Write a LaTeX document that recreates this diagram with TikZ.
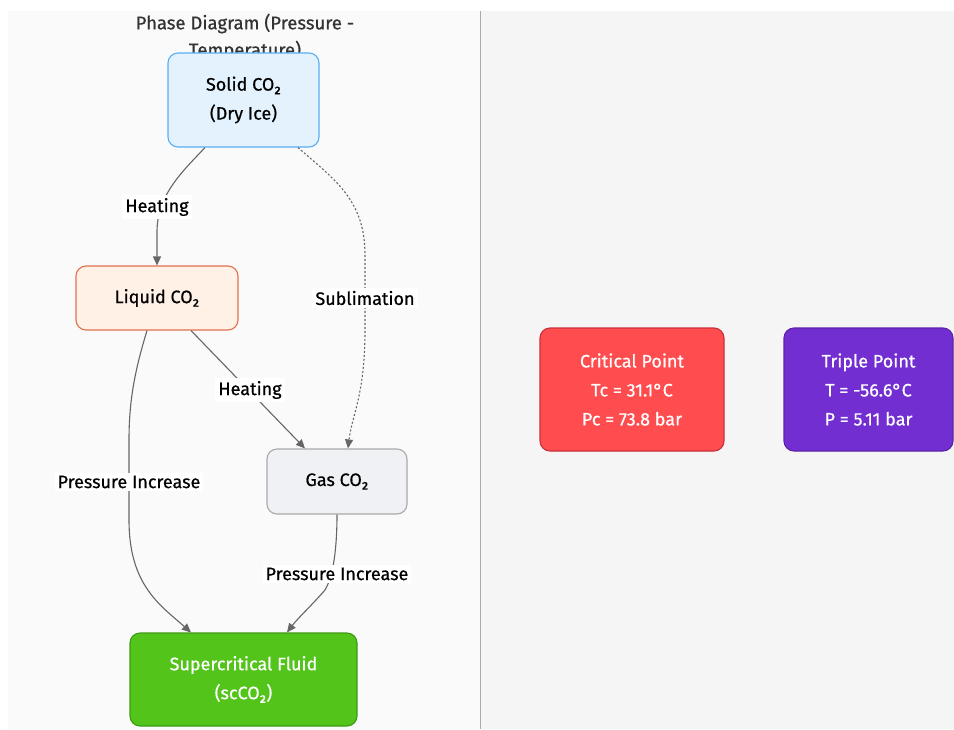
\documentclass[tikz,border=0pt]{standalone}
\usepackage{fontspec}
\setmainfont{Fira Sans}[FakeBold=0.6]
\usetikzlibrary{arrows.meta}
\definecolor{leftbg}{HTML}{FAFAFA}
\definecolor{rightbg}{HTML}{F5F5F5}
\definecolor{divider}{HTML}{AAAAAA}
\definecolor{edgec}{HTML}{666666}
\definecolor{titlec}{HTML}{333333}
\definecolor{solidf}{HTML}{E3F2FD}
\definecolor{solidd}{HTML}{5AAEF2}
\definecolor{liqf}{HTML}{FFF1E6}
\definecolor{liqd}{HTML}{E0714F}
\definecolor{gasf}{HTML}{F0F1F5}
\definecolor{gasd}{HTML}{A9A9A9}
\definecolor{supf}{HTML}{52C41A}
\definecolor{supd}{HTML}{3F9A14}
\definecolor{critf}{HTML}{FF4D4F}
\definecolor{critd}{HTML}{C9303A}
\definecolor{tripf}{HTML}{722ED1}
\definecolor{tripd}{HTML}{5B23A8}
\tikzset{
  box/.style={draw, rounded corners=10pt, line width=1.1pt, align=center, inner sep=0pt,
    font=\fontsize{18}{29}\selectfont},
  edge/.style={draw=edgec, line width=1.1pt, -{Triangle[length=9pt,width=8pt]}},
  dotedge/.style={edge, dash pattern=on 2pt off 2pt},
  lbl/.style={fill=white, inner sep=3pt, font=\fontsize{18}{20}\selectfont, text=black},
}
\begin{document}
\begin{tikzpicture}[x=1pt,y=-1pt]
\useasboundingbox (0,0) rectangle (954,729);
\fill[white] (0,0) rectangle (954,729);
\fill[leftbg] (8,11) rectangle (480,729);
\fill[rightbg] (481,11) rectangle (954,729);
\draw[divider, line width=1.6pt] (480.5,11) -- (480.5,729);

% title
\node[text=titlec, font=\fontsize{18.5}{27}\selectfont, align=center] (title) at (245,37)
  {Phase Diagram (Pressure -\\Temperature)};

% nodes
\node[box, fill=solidf, draw=solidd, minimum width=151pt, minimum height=94pt] (S) at (243.5,100) {Solid CO₂\\(Dry Ice)};
\node[box, fill=liqf, draw=liqd, minimum width=162pt, minimum height=64pt] (L) at (157,298) {Liquid CO₂};
\node[box, fill=gasf, draw=gasd, minimum width=140pt, minimum height=65pt] (G) at (337,481.5) {Gas CO₂};
\node[box, fill=supf, draw=supd, text=white, minimum width=227pt, minimum height=93pt] (F) at (243.5,679.5) {Supercritical Fluid\\(scCO₂)};
\node[box, fill=critf, draw=critd, text=white, minimum width=184pt, minimum height=123pt] (C) at (632,389.5) {Critical Point\\Tc = 31.1°C\\Pc = 73.8 bar};
\node[box, fill=tripf, draw=tripd, text=white, minimum width=169pt, minimum height=123pt] (T) at (868.5,389.5) {Triple Point\\T = -56.6°C\\P = 5.11 bar};

% edges
\draw[edge] ([xshift=-38.5pt]S.south) .. controls (182,172) and (157,195) .. (157,232) -- (L.north);
\draw[dotedge] ([xshift=54.5pt]S.south) .. controls (335,180) and (365,200) .. (365,255) -- (365,330)
   .. controls (365,395) and (352,415) .. ([xshift=11pt]G.north);
\draw[edge] ([xshift=34pt]L.south) -- ([xshift=-32pt]G.north);
\draw[edge] ([xshift=-10pt]L.south) .. controls (135,370) and (129,400) .. (129,440) -- (129,520)
   .. controls (129,585) and (160,605) .. ([xshift=-52.5pt]F.north);
\draw[edge] (G.south) .. controls (337,545) and (334,575) .. (325,590) .. controls (312,605) and (298,618) .. ([xshift=43.5pt]F.north);

% labels
\node[lbl] (l1) at (157,207) {Heating};
\node[lbl] (l2) at (365,298) {Sublimation};
\node[lbl] (l3) at (250,390) {Heating};
\node[lbl] (l4) at (129,482) {Pressure Increase};
\node[lbl] (l5) at (337,574) {Pressure Increase};
\end{tikzpicture}
\end{document}
